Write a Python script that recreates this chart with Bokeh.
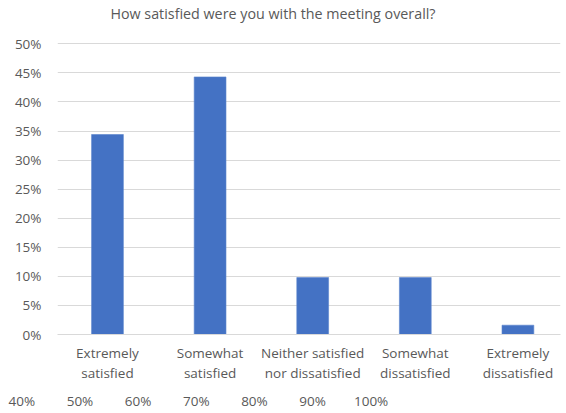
from bokeh.plotting import figure
from bokeh.models import Range1d, FixedTicker, ColumnDataSource, Title
from bokeh.core.properties import value
from bokeh.embed import file_html
from bokeh.resources import INLINE

title_text = "How satisfied were you with the meeting overall?"
categories = ["Extremely\nsatisfied", "Somewhat\nsatisfied", "Neither satisfied\nnor dissatisfied",
              "Somewhat\ndissatisfied", "Extremely\ndissatisfied"]
values = [34.4, 44.3, 9.8, 9.8, 1.6]
y_ticks = [0, 5, 10, 15, 20, 25, 30, 35, 40, 45, 50]
bottom_row = ["40%", "50%", "60%", "70%", "80%", "90%", "100%"]

TXT = "#595959"
GRID = "#D9D9D9"
FONT = "Open Sans"

xs = list(range(len(categories)))
src = ColumnDataSource(dict(x=xs, top=values))

# frame reaches the top edge; the headroom above 50% holds the chart title
p = figure(width=566, height=413, output_backend="svg", toolbar_location=None,
           x_range=Range1d(-0.487, 4.415), y_range=Range1d(0, 57.45),
           min_border_left=57, min_border_right=6, min_border_top=0, min_border_bottom=79)
p.title.visible = False
p.outline_line_color = None
p.background_fill_color = "white"

p.vbar(x="x", top="top", width=0.31, source=src, fill_color="#4472C4", line_color="#5B84CC", line_width=0.6)

p.text(x=[1.613], y=[55.2], text=[title_text], text_align="center", text_baseline="middle",
       text_font=value(FONT), text_font_size="14.3px", text_color=TXT)

p.yaxis.ticker = FixedTicker(ticks=y_ticks)
p.yaxis.major_label_overrides = {v: f"{v}%" for v in y_ticks}
p.yaxis.axis_line_color = None
p.yaxis.major_tick_line_color = None
p.yaxis.minor_tick_line_color = None
p.yaxis.major_tick_out = 0
p.yaxis.major_tick_in = 0
p.yaxis.major_label_standoff = 16
p.yaxis.major_label_text_font = FONT
p.yaxis.major_label_text_font_size = "13.5px"
p.yaxis.major_label_text_color = TXT

p.xaxis.ticker = FixedTicker(ticks=xs)
p.xaxis.major_label_overrides = {i: c for i, c in enumerate(categories)}
p.xaxis.axis_line_color = GRID
p.xaxis.major_tick_line_color = None
p.xaxis.minor_tick_line_color = None
p.xaxis.major_tick_out = 0
p.xaxis.major_tick_in = 0
p.xaxis.major_label_standoff = 9
p.xaxis.major_label_text_font = FONT
p.xaxis.major_label_text_font_size = "13.5px"
p.xaxis.major_label_text_color = TXT
p.xaxis.major_label_text_line_height = 1.15

p.xgrid.grid_line_color = None
p.ygrid.ticker = FixedTicker(ticks=y_ticks)
p.ygrid.grid_line_color = GRID
p.ygrid.grid_line_width = 1

# stray percentage row along the bottom edge
gaps = ["\u00a0" * 9] * (len(bottom_row) - 2) + ["\u00a0" * 8]
row_text = bottom_row[0] + "".join(g + s for g, s in zip(gaps, bottom_row[1:]))
p.add_layout(Title(text=row_text, align="left", offset=-49, standoff=8,
                   text_font=FONT, text_font_size="13.5px", text_font_style="normal",
                   text_color=TXT), "below")

open("out.html", "w").write(file_html(p, INLINE))
